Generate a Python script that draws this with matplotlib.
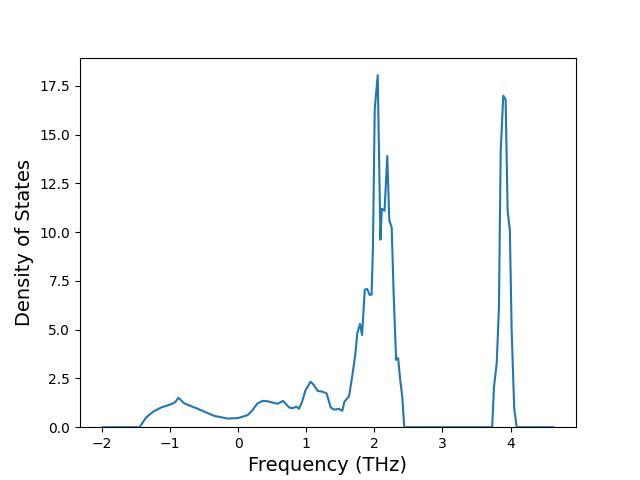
import matplotlib
matplotlib.use("Agg")
import matplotlib.pyplot as plt

freq = [-1.99, -1.70, -1.447, -1.35, -1.25, -1.13, -0.98, -0.92, -0.876, -0.79,
        -0.59, -0.35, -0.15, 0.0, 0.14, 0.21, 0.285, 0.36, 0.43, 0.58, 0.66,
        0.75, 0.80, 0.855, 0.894, 0.94, 0.99, 1.065, 1.11, 1.17, 1.24, 1.30,
        1.36, 1.41, 1.48, 1.53, 1.56, 1.63, 1.675, 1.72, 1.75, 1.79, 1.82,
        1.86, 1.895, 1.93, 1.96, 1.98, 2.006, 2.05, 2.09, 2.11, 2.15, 2.19,
        2.22, 2.255, 2.285, 2.32, 2.35, 2.38, 2.41, 2.44, 3.0, 3.73, 3.757,
        3.797, 3.83, 3.855, 3.893, 3.928, 3.957, 3.99, 4.016, 4.054, 4.09, 4.63]
dos = [0.0, 0.0, 0.0, 0.5, 0.79, 1.01, 1.18, 1.30, 1.51, 1.22,
       0.94, 0.58, 0.44, 0.47, 0.62, 0.87, 1.22, 1.35, 1.33, 1.20, 1.35,
       1.01, 0.97, 1.06, 0.94, 1.31, 1.90, 2.33, 2.17, 1.86, 1.82, 1.73,
       1.01, 0.90, 0.94, 0.84, 1.30, 1.60, 2.60, 3.70, 4.82, 5.30, 4.73,
       7.05, 7.09, 6.79, 6.79, 9.28, 16.3, 18.05, 9.62, 11.2, 11.1, 13.9,
       10.62, 10.23, 6.71, 3.45, 3.54, 2.42, 1.56, 0.0, 0.0, 0.0, 2.07,
       3.28, 6.19, 14.1, 17.0, 16.8, 11.1, 10.1, 4.99, 0.96, 0.0, 0.0]

fig, ax = plt.subplots(figsize=(6.4, 4.8), dpi=100)
ax.plot(freq, dos, color="#1f77b4")
ax.set_ylim(bottom=0)
ax.set_xlabel("Frequency (THz)", fontsize=14)
ax.set_ylabel("Density of States", fontsize=14)
fig.savefig("out.png", dpi=100)
